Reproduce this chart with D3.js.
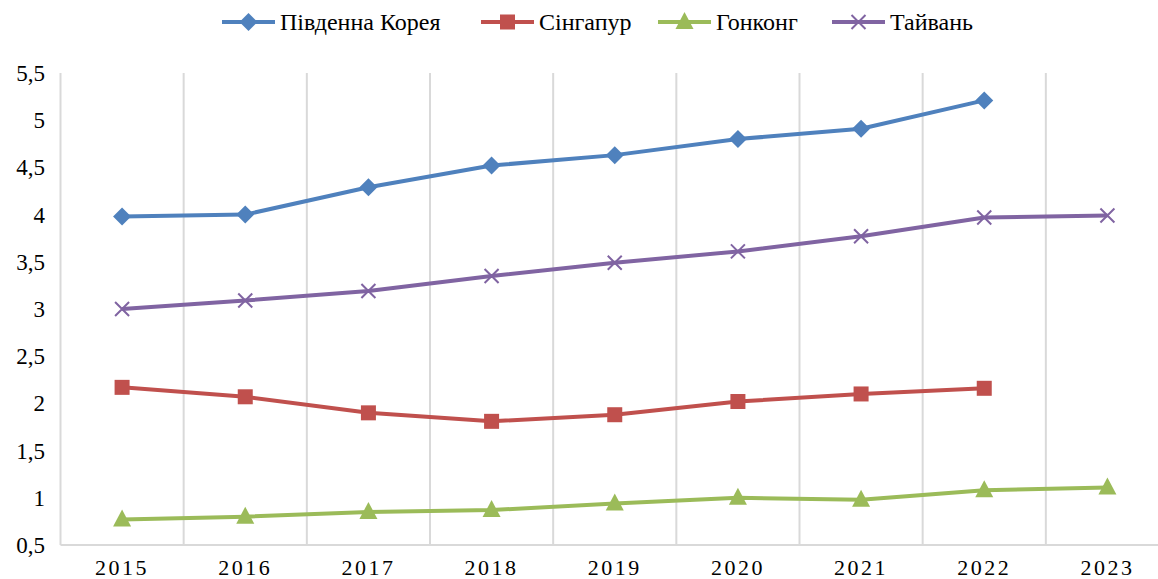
<!DOCTYPE html>
<html><head><meta charset="utf-8">
<script src="https://cdn.jsdelivr.net/npm/d3@7"></script>
<style>body{margin:0;background:#fff}svg{display:block}</style>
</head><body>
<svg id="c" width="1158" height="579"></svg>
<script>
const years = ["2015","2016","2017","2018","2019","2020","2021","2022","2023"];
const korea = [3.98, 4.0, 4.29, 4.52, 4.63, 4.8, 4.91, 5.21, null];
const singapore = [2.17, 2.07, 1.9, 1.81, 1.88, 2.02, 2.1, 2.16, null];
const hongkong = [0.77, 0.8, 0.85, 0.87, 0.94, 1.0, 0.98, 1.08, 1.11];
const taiwan = [3.0, 3.09, 3.19, 3.35, 3.49, 3.61, 3.77, 3.97, 3.99];
const seriesNames = ["Південна Корея","Сінгапур","Гонконг","Тайвань"];
const seriesColors = ["#4F81BD","#C0504D","#9BBB59","#8064A2"];
const seriesMarkers = ["diamond","square","triangle","cross"];
const yTicks = [0.5,1,1.5,2,2.5,3,3.5,4,4.5,5,5.5];

(function(){
const series = [korea, singapore, hongkong, taiwan].map((v,i)=>({name:seriesNames[i],color:seriesColors[i],marker:seriesMarkers[i],values:v}));

const svg = d3.select("#c");
const pL = 60.5, pR = 1169, pT = 73, pB = 545;
const x = d3.scaleBand().domain(years).range([pL,pR]);
const y = d3.scaleLinear().domain([0.5,5.5]).range([pB,pT]);
const font = "Liberation Serif, Times New Roman, serif";

const bounds = years.map(d=>x(d)).concat([pR]);
svg.append("g").selectAll("line").data(bounds).join("line")
  .attr("x1",d=>d).attr("x2",d=>d).attr("y1",pT).attr("y2",pB)
  .attr("stroke","#D9D9D9").attr("stroke-width",2);
svg.append("line").attr("x1",pL).attr("x2",pR).attr("y1",pB).attr("y2",pB)
  .attr("stroke","#D9D9D9").attr("stroke-width",2);

svg.append("g").selectAll("text").data(yTicks).join("text")
  .attr("x",45).attr("y",d=>y(d)).attr("dy","0.35em").attr("text-anchor","end")
  .style("font-family",font).style("font-size","23px").attr("fill","#000")
  .text(d=>String(d).replace(".",","));
svg.append("g").selectAll("text").data(years).join("text")
  .attr("x",d=>x(d)+x.bandwidth()/2).attr("y",575).attr("text-anchor","middle")
  .style("font-family",font).style("font-size","22px").style("letter-spacing","2.5px").attr("fill","#000")
  .text(d=>d);

const cx = d=>x(d)+x.bandwidth()/2;
function drawMarker(g, type, color, px, py){
  if(type==="diamond"){
    g.append("path").attr("d",`M${px},${py-9}L${px+9},${py}L${px},${py+9}L${px-9},${py}Z`).attr("fill",color);
  } else if(type==="square"){
    g.append("rect").attr("x",px-7.5).attr("y",py-7.5).attr("width",15).attr("height",15).attr("fill",color);
  } else if(type==="triangle"){
    g.append("path").attr("d",`M${px},${py-10}L${px+9},${py+7}L${px-9},${py+7}Z`).attr("fill",color);
  } else if(type==="cross"){
    g.append("path").attr("d",`M${px-7},${py-7}L${px+7},${py+7}M${px-7},${py+7}L${px+7},${py-7}`)
      .attr("stroke",color).attr("stroke-width",2).attr("fill","none");
  }
}

const line = d3.line().defined(d=>d.v!=null).x(d=>cx(d.k)).y(d=>y(d.v));
series.forEach(s=>{
  const pts = years.map((k,i)=>({k, v:s.values[i]}));
  const g = svg.append("g");
  g.append("path").datum(pts).attr("d",line).attr("fill","none")
    .attr("stroke",s.color).attr("stroke-width",4).attr("stroke-linejoin","round");
  pts.filter(p=>p.v!=null).forEach(p=>drawMarker(g,s.marker,s.color,cx(p.k),y(p.v)));
});

const legX = [222, 481, 658, 832];
const lg = svg.append("g");
series.forEach((s,i)=>{
  const lx = legX[i], ly = 22;
  lg.append("line").attr("x1",lx).attr("x2",lx+53).attr("y1",ly).attr("y2",ly)
    .attr("stroke",s.color).attr("stroke-width",4);
  drawMarker(lg, s.marker, s.color, lx+26.5, ly);
  lg.append("text").attr("x",lx+58).attr("y",ly).attr("dy","0.35em")
    .style("font-family",font).style("font-size","24px").attr("fill","#000").text(s.name);
});
})();
</script>
</body></html>
